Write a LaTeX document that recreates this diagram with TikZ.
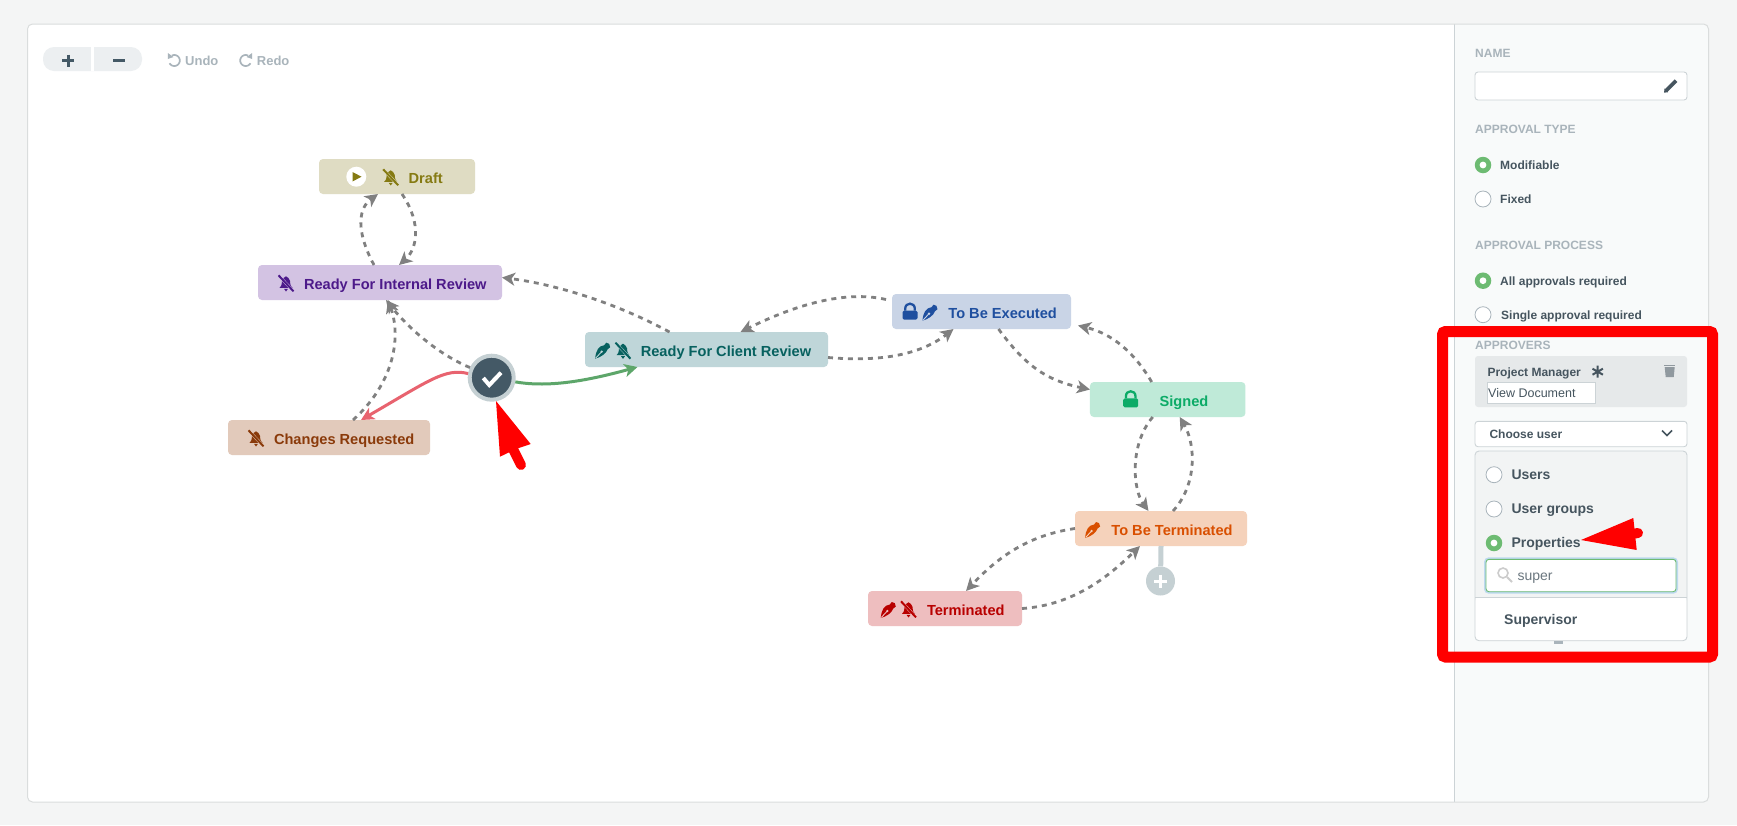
\documentclass[tikz,border=0pt]{standalone}
\usepackage{fontspec}
\setmainfont{Liberation Sans}
\usetikzlibrary{arrows.meta}
\definecolor{pagegray}{HTML}{F4F5F5}
\definecolor{cardline}{HTML}{DADDDD}
\definecolor{panelgray}{HTML}{F8FAFA}
\definecolor{panelline}{HTML}{CCD3D6}
\definecolor{headgray}{HTML}{A9B4BB}
\definecolor{slate}{HTML}{46555F}
\definecolor{flowgray}{HTML}{808080}
\definecolor{tickgreen}{HTML}{6DBB72}
\definecolor{approvegreen}{HTML}{5DA66A}
\definecolor{rejectred}{HTML}{E8636F}
\definecolor{ringgray}{HTML}{C5D0D3}
\definecolor{darkslate}{HTML}{445966}
\definecolor{toolgray}{HTML}{ECEFF1}
\definecolor{roleback}{HTML}{E6E9EA}
\definecolor{dropgray}{HTML}{F2F4F4}
\definecolor{glowblue}{HTML}{BCD9EF}
\definecolor{draftfill}{HTML}{DFDCC3}
\definecolor{draftink}{HTML}{857A12}
\definecolor{internalfill}{HTML}{D3C3E3}
\definecolor{internalink}{HTML}{4D1A8A}
\definecolor{changesfill}{HTML}{E2CABB}
\definecolor{changesink}{HTML}{8A3A0A}
\definecolor{clientfill}{HTML}{BFD6D9}
\definecolor{clientink}{HTML}{07615F}
\definecolor{executefill}{HTML}{C9D4E6}
\definecolor{executeink}{HTML}{1F4F9F}
\definecolor{signedfill}{HTML}{BFEAD8}
\definecolor{signedink}{HTML}{0CAB67}
\definecolor{tbtfill}{HTML}{F5D2BB}
\definecolor{tbtink}{HTML}{D94F00}
\definecolor{termfill}{HTML}{EEBEBF}
\definecolor{termink}{HTML}{B80000}
\tikzset{
    statebox/.style={rectangle, rounded corners=4pt, inner sep=0pt, outer sep=0pt, minimum height=35pt},
    statetext/.style={anchor=base west, inner sep=0pt, outer sep=0pt, font=\bfseries\fontsize{14.6}{16}\selectfont},
    flow/.style={->, draw=flowgray, line width=2.8pt, dash pattern=on 5pt off 5pt},
    headtext/.style={anchor=base west, inner sep=0pt, text=headgray, font=\bfseries\fontsize{12}{14}\selectfont},
    smalltext/.style={anchor=base west, inner sep=0pt, text=slate, font=\bfseries\fontsize{12}{14}\selectfont},
    bigtext/.style={anchor=base west, inner sep=0pt, text=slate, font=\bfseries\fontsize{14}{16}\selectfont},
    radio/.style={circle, draw=headgray, fill=white, line width=.8pt, minimum size=16pt, inner sep=0pt},
    radioon/.style={circle, fill=tickgreen, minimum size=16.5pt, inner sep=0pt},
    field/.style={rectangle, rounded corners=3pt, draw=panelline, fill=white, line width=.9pt, inner sep=0pt}
}
\newcommand{\bellslash}[3]{%
    \begin{scope}[shift={(#1)}]
        \fill[#2] (-6.5,4.5) .. controls (-3.5,2) and (-4.5,-1) .. (-4,-2.5) .. controls (-3.5,-5) and (-1.5,-6) .. (0,-7) .. controls (1.5,-6) and (3.5,-5) .. (4,-2.5) .. controls (4.5,-1) and (3.5,2) .. (6.5,4.5) -- cycle;
        \fill[#2] (-2,5.5) -- (2,5.5) -- (0,8.2) -- cycle;
        \draw[#3, line width=2.8pt] (-7.5,-8) -- (7.5,8);
        \draw[#2, line width=2pt] (-7.5,-8) -- (7.5,8);
    \end{scope}}
\newcommand{\pennib}[3]{%
    \begin{scope}[shift={(#1)}]
        \fill[#2] (-7.5,8) .. controls (-7,0) and (-4,-5) .. (1.5,-5.5) -- (3.5,-8) .. controls (5.5,-8) and (8,-6.5) .. (7.5,-3.5) -- (5,-1.5) .. controls (3.5,3) and (-2,6.5) .. cycle;
        \draw[#3, line width=.9pt] (-7,7.5) -- (-1.5,1.5);
        \fill[#3] (-1,1) circle (1.3pt);
    \end{scope}}
\newcommand{\lockicon}[2]{%
    \begin{scope}[shift={(#1)}]
        \fill[#2, rounded corners=1.5pt] (-7.5,-1) rectangle (7.5,8);
        \draw[#2, line width=2.3pt] (-4.8,-1) -- (-4.8,-3) .. controls (-4.8,-9.7) and (4.8,-9.7) .. (4.8,-3) -- (4.8,-1);
    \end{scope}}
\newcommand{\turnarrow}[2]{%
    \begin{scope}[shift={(#1)}, xscale=#2]
        \draw[headgray, line width=1.7pt] plot[domain=-115:150, samples=24] ({5.5*cos(\x)},{5.5*sin(\x)});
        \fill[headgray] (-6.5,-7.5) -- (-6.5,-1.5) -- (-.8,-3.5) -- cycle;
    \end{scope}}
\begin{document}
\begin{tikzpicture}[x=1pt, y=-1pt, >={Stealth[inset=3.5pt,length=13pt,width=13pt]}]
    \useasboundingbox (0,0) rectangle (1737,825);
    \fill[pagegray] (0,0) rectangle (1737,825);
    % card and side panel
    \fill[white, rounded corners=5pt] (27.5,24) rectangle (1708.5,802);
    \begin{scope}
        \clip[rounded corners=5pt] (27.5,24) rectangle (1708.5,802);
        \fill[panelgray] (1454,24) rectangle (1709,802);
        \draw[panelline, line width=1pt] (1454,24) -- (1454,802);
    \end{scope}
    \draw[cardline, line width=1pt, rounded corners=5pt] (27.5,24) rectangle (1708.5,802);
    % toolbar
    \fill[toolgray, rounded corners=11pt] (43,47) rectangle (142,71);
    \fill[white] (91,47) rectangle (94,71);
    \draw[darkslate, line width=2.6pt] (62.3,60.7) -- (74,60.7) (68.2,54.7) -- (68.2,66.7);
    \draw[darkslate, line width=2.6pt] (113.3,60.7) -- (125,60.7);
    \turnarrow{174.3,60.5}{1}
    \node[headtext, font=\bfseries\fontsize{13}{15}\selectfont] (undo) at (185,65) {Undo};
    \turnarrow{245.7,60.5}{-1}
    \node[headtext, font=\bfseries\fontsize{13}{15}\selectfont] (redo) at (256.7,65) {Redo};
    % states
    \node[statebox, fill=draftfill, minimum width=156pt] (draft) at (397,176.5) {};
    \node[statebox, fill=internalfill, minimum width=244pt] (internal) at (380,282.5) {};
    \node[statebox, fill=changesfill, minimum width=202pt] (changes) at (329,437.5) {};
    \node[statebox, fill=clientfill, minimum width=243pt] (client) at (706.5,349.5) {};
    \node[statebox, fill=executefill, minimum width=179pt] (execute) at (981.5,311.5) {};
    \node[statebox, fill=signedfill, minimum width=155.5pt] (signed) at (1167.7,399.5) {};
    \node[statebox, fill=tbtfill, minimum width=172pt] (tobeterm) at (1161,528.5) {};
    \node[statebox, fill=termfill, minimum width=154pt] (terminated) at (945,608.5) {};
    \node[statetext, text=draftink] (draftname) at (408.7,183) {Draft};
    \node[statetext, text=internalink] (internalname) at (304,289) {Ready For Internal Review};
    \node[statetext, text=changesink] (changesname) at (274,444) {Changes Requested};
    \node[statetext, text=clientink] (clientname) at (640.8,356) {Ready For Client Review};
    \node[statetext, text=executeink] (executename) at (948.4,318) {To Be Executed};
    \node[statetext, text=signedink] (signedname) at (1159.6,406) {Signed};
    \node[statetext, text=tbtink] (tobetermname) at (1111.4,535) {To Be Terminated};
    \node[statetext, text=termink] (terminatedname) at (927,615) {Terminated};
    % state icons
    \fill[white] (356.3,176.7) circle (10pt);
    \fill[draftink] (352.5,172) -- (361.5,176.7) -- (352.5,181.5) -- cycle;
    \bellslash{390.7,177.3}{draftink}{draftfill}
    \bellslash{286,283.3}{internalink}{internalfill}
    \bellslash{256,438.3}{changesink}{changesfill}
    \pennib{602.7,350.7}{clientink}{clientfill}
    \bellslash{623,350.7}{clientink}{clientfill}
    \lockicon{910,311.7}{executeink}
    \pennib{930,312.7}{executeink}{executefill}
    \lockicon{1130.7,399.3}{signedink}
    \pennib{1092.6,530}{tbtink}{tbtfill}
    \pennib{888.3,610}{termink}{termfill}
    \bellslash{908.5,609.3}{termink}{termfill}
    % decision and add nodes
    \node[circle, draw=ringgray, fill=darkslate, line width=4pt, minimum size=44pt, inner sep=0pt] (decision) at (491.7,377.7) {};
    \draw[white, line width=4pt] (483.3,378) -- (489.3,385) -- (501,372.7);
    \node[circle, fill=ringgray, minimum size=29pt, inner sep=0pt] (addstep) at (1160.5,581) {};
    \draw[ringgray, line width=5pt] (tobeterm.south) -- (addstep);
    \draw[white, line width=3pt] (1154,581) -- (1167,581) (1160.5,574.5) -- (1160.5,587.5);
    % transitions
    \draw[flow] ([xshift=-6pt]internal.north) .. controls (354,228) and (360,207) .. ([xshift=-19pt]draft.south);
    \draw[flow] ([xshift=5pt]draft.south) .. controls (423,225) and (416,250) .. ([xshift=19pt]internal.north);
    \draw[flow] ([xshift=-37pt]client.north) .. controls (620,305) and (560,285) .. ([yshift=5pt]internal.east);
    \draw[flow] (decision.155) .. controls (440,355) and (410,330) .. ([xshift=6pt]internal.south);
    \draw[flow] ([xshift=24pt]changes.north) .. controls (392,385) and (402,340) .. ([xshift=8pt]internal.south);
    \draw[->, draw=rejectred, line width=3pt] (decision.170) .. controls (445,368) and (430,380) .. ([xshift=32pt]changes.north);
    \draw[->, draw=approvegreen, line width=3pt] (decision.-10) .. controls (550,388) and (590,380) .. ([xshift=-69pt]client.south);
    \draw[flow] ([xshift=-6pt,yshift=12pt]execute.west) .. controls (845,290) and (795,305) .. ([xshift=34pt]client.north);
    \draw[flow] ([yshift=-8pt]client.east) .. controls (880,362) and (920,355) .. ([xshift=-28pt]execute.south);
    \draw[flow] ([xshift=17pt]execute.south) .. controls (1025,365) and (1045,380) .. ([yshift=10pt]signed.west);
    \draw[flow] ([xshift=-16pt]signed.north) .. controls (1130,345) and (1105,332) .. ([xshift=7pt,yshift=-14pt]execute.east);
    \draw[flow] ([xshift=-15pt]signed.south) .. controls (1129,445) and (1133,490) .. ([xshift=-12.5pt]tobeterm.north);
    \draw[flow] ([xshift=12pt]tobeterm.north) .. controls (1197,485) and (1196,445) .. ([xshift=12pt]signed.south);
    \draw[flow] (tobeterm.west) .. controls (1030,535) and (1000,555) .. ([xshift=21pt]terminated.north);
    \draw[flow] (terminated.east) .. controls (1075,605) and (1110,575) .. ([xshift=-21pt]tobeterm.south);
    % pointer at the decision node
    \fill[red] (496,401) -- (530.7,444) -- (516,449) -- (500,456.7) -- cycle;
    \draw[red, line width=10pt, line cap=round] (511,445) -- (521,465);
    % side panel, upper part
    \node[headtext] (namehead) at (1475,57) {NAME};
    \node[field, minimum width=212pt, minimum height=28pt] (namefield) at (1581,86) {};
    \begin{scope}[shift={(1671,85.7)}]
        \draw[slate, line width=3.6pt] (-5,5) -- (5,-5);
        \fill[slate] (-7,7) -- (-6.5,2.8) -- (-2.8,6.5) -- cycle;
    \end{scope}
    \node[headtext] (typehead) at (1475,133) {APPROVAL TYPE};
    \node[radioon] (modifiable) at (1483,165) {};
    \fill[white] (modifiable) circle (3.4pt);
    \node[smalltext] (modifiablename) at (1500,169.5) {Modifiable};
    \node[radio] (fixed) at (1483,199) {};
    \node[smalltext] (fixedname) at (1500,203.5) {Fixed};
    \node[headtext] (processhead) at (1475,249) {APPROVAL PROCESS};
    \node[radioon] (allreq) at (1483,280.7) {};
    \fill[white] (allreq) circle (3.4pt);
    \node[smalltext] (allreqname) at (1500,285) {All approvals required};
    \node[radio] (singlereq) at (1483,314.7) {};
    \node[smalltext] (singlereqname) at (1501,319) {Single approval required};
    % approvers
    \node[headtext] (approvershead) at (1475,349) {APPROVERS};
    \fill[roleback, rounded corners=3pt] (1475,356) rectangle (1687,407);
    \node[smalltext] (manager) at (1487.3,376) {Project Manager};
    \begin{scope}[shift={(1597.7,371.7)}]
        \draw[slate, line width=2pt] (0,-6) -- (0,6) (-5.2,-3) -- (5.2,3) (-5.2,3) -- (5.2,-3);
    \end{scope}
    \begin{scope}[shift={(1669.7,370.7)}]
        \fill[headgray!85!black] (-5,-3.5) -- (5,-3.5) -- (4,6.5) -- (-4,6.5) -- cycle;
        \fill[headgray!85!black] (-5.5,-6) rectangle (5.5,-4.5);
    \end{scope}
    \node[rectangle, draw=panelline, fill=white, line width=.8pt, minimum width=108.7pt, minimum height=21.7pt, inner sep=0pt] (viewfield) at (1541.3,392.8) {};
    \node[anchor=base west, inner sep=0pt, text=slate, font=\fontsize{12.5}{14}\selectfont] (viewtext) at (1488,397.5) {View Document};
    \node[field, minimum width=212pt, minimum height=25.4pt] (choose) at (1581,434) {};
    \node[smalltext] (choosetext) at (1489.3,438.5) {Choose user};
    \draw[slate, line width=1.6pt] (1662,430.5) -- (1667,435.5) -- (1672,430.5);
    % dropdown
    \fill[dropgray, rounded corners=4pt] (1475,451) rectangle (1687,640.7);
    \fill[white, rounded corners=4pt] (1475,597) -- (1687,597) -- (1687,640.7) -- (1475,640.7) -- cycle;
    \draw[panelline, line width=.9pt] (1475,597) -- (1687,597);
    \draw[panelline, line width=.9pt, rounded corners=4pt] (1475,451) rectangle (1687,640.7);
    \fill[headgray] (1553.7,641) rectangle (1562.7,643.5);
    \node[radio] (users) at (1494,474.7) {};
    \node[bigtext] (usersname) at (1511.3,479.5) {Users};
    \node[radio] (groups) at (1494,509) {};
    \node[bigtext] (groupsname) at (1511.3,513.5) {User groups};
    \node[radioon] (properties) at (1494,543) {};
    \fill[white] (properties) circle (3.4pt);
    \node[bigtext] (propertiesname) at (1511.3,547.5) {Properties};
    \draw[glowblue, line width=4pt, rounded corners=3pt] (1486,559.3) rectangle (1676,591.7);
    \node[field, draw=tickgreen, minimum width=190pt, minimum height=32.4pt] (search) at (1581,575.5) {};
    \draw[black!20, line width=1.6pt] (1503,573) circle (5pt);
    \draw[black!20, line width=2pt] (1507,577) -- (1512,582);
    \node[anchor=base west, inner sep=0pt, text=slate!80, font=\fontsize{14}{16}\selectfont] (searchtext) at (1517.3,580) {super};
    \node[bigtext] (supervisor) at (1504,624) {Supervisor};
    % pointer at properties
    \fill[red] (1581,540) -- (1633.3,518) -- (1636.7,550) -- cycle;
    \draw[red, line width=10pt, line cap=round] (1625,535) -- (1638,533);
    % highlight frame
    \draw[red, line width=11pt, rounded corners=3pt] (1442.5,331.5) rectangle (1712.5,657);
\end{tikzpicture}
\end{document}
